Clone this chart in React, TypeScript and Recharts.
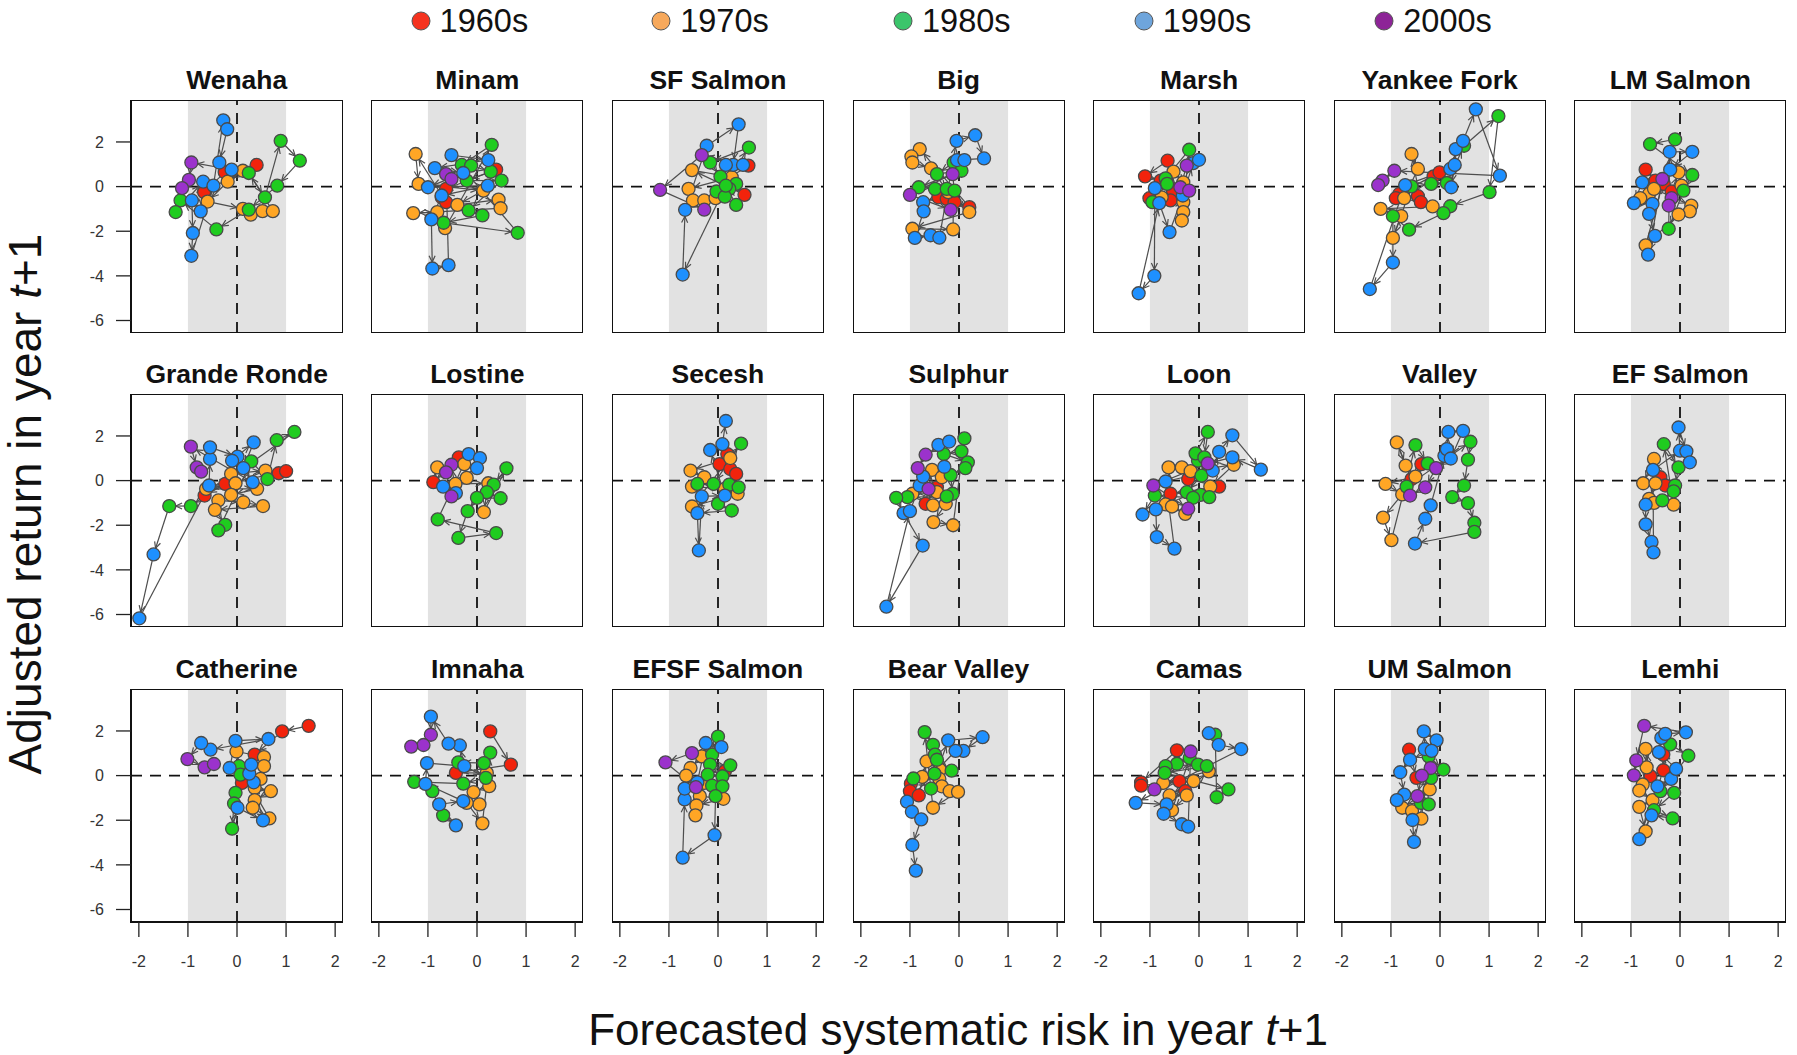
import {
  ComposedChart,
  XAxis,
  YAxis,
  ReferenceArea,
  ReferenceLine,
  Line,
  Scatter,
} from "recharts";

// point = [forecasted risk, adjusted return]; each panel holds 5 decade groups (1960s..2000s) in time order
type Pt = [number, number];

const DECADES = ["1960s", "1970s", "1980s", "1990s", "2000s"];
const POINT_COLORS = ["#f2230c", "#ffa625", "#1fcc1f", "#1e90ff", "#9b32cc"];
const LEGEND_COLORS = ["#f5331f", "#f7a95c", "#3bc56b", "#6ea5dc", "#8d2497"];
const X_TICKS = [-2, -1, 0, 1, 2];
const Y_TICKS = [-6, -4, -2, 0, 2];

const wenaha: Pt[][] = [
  [[0.4, 0.97], [-0.25, 0.64], [-0.67, -0.25]],
  [[0.12, 0.71], [-0.19, 0.22], [-0.6, -0.67], [0.12, -1.0], [0.28, -1.26], [0.52, -1.1], [0.73, -1.1]],
  [[0.24, 0.61], [0.57, -0.48], [0.89, 2.05], [1.28, 1.16], [0.82, 0.04], [0.24, -1.03], [-0.42, -1.92], [-1.15, -0.62], [-1.25, -1.14]],
  [[-0.69, 0.22], [-0.74, -1.11], [-0.92, -0.62], [-0.9, -2.08], [-0.93, -3.1], [-0.48, 0.04], [-0.28, 2.97], [-0.2, 2.57], [-0.36, 1.08], [-0.11, 0.76]],
  [[-0.93, 1.08], [-0.98, 0.3], [-1.12, -0.07]],
];
const minam: Pt[][] = [
  [[0.39, 0.76], [-0.63, -0.1], [-0.72, -0.48], [-0.63, -0.7]],
  [[-1.25, 1.46], [-1.19, 0.12], [0.13, -0.18], [-0.4, -0.82], [0.44, -0.58], [0.48, -0.97], [-1.3, -1.19], [-0.81, -1.14], [-0.65, -1.86]],
  [[0.3, 1.87], [-0.31, 0.97], [-0.12, 0.94], [0.28, 0.67], [-0.21, 0.27], [0.5, 0.27], [-0.17, -1.07], [0.11, -1.29], [-0.68, -1.62], [0.83, -2.07]],
  [[-0.52, 1.41], [0.23, 1.19], [-0.86, 0.83], [-0.28, 0.61], [-1.0, -0.03], [0.22, 0.04], [-0.72, -0.4], [-0.93, -1.47], [-0.91, -3.67], [-0.58, -3.52]],
  [[-0.63, 0.56], [-0.52, 0.34]],
];
const sfSalmon: Pt[][] = [
  [[0.62, 0.94], [0.14, 0.27], [0.54, -0.37]],
  [[-0.53, 0.74], [0.28, 0.42], [-0.6, -0.1], [-0.51, -0.62], [-0.28, -0.62], [-0.05, -0.52]],
  [[0.63, 1.75], [-0.16, 1.08], [0.05, 0.45], [0.37, 0.12], [-0.03, -0.22], [0.23, -0.1], [0.14, -0.45], [0.37, -0.82], [0.16, 0.04]],
  [[-0.72, -3.94], [-0.67, -1.04], [-0.23, 1.83], [0.42, 2.79], [0.31, 0.97], [0.16, 0.97], [0.51, 0.97]],
  [[-0.33, 1.41], [-1.18, -0.15], [-0.28, -1.03]],
];
const big: Pt[][] = [
  [[-0.42, -0.48], [-0.25, -0.55], [-0.09, -0.7], [0.21, -0.92]],
  [[-0.8, 1.68], [-0.97, 1.35], [-0.95, 1.08], [-0.57, 0.82], [-0.22, -0.25], [0.21, -1.14], [-0.95, -1.89], [-0.12, -1.92]],
  [[-0.11, 1.08], [-0.45, 0.56], [0.05, 0.71], [-0.82, -0.03], [-0.49, -0.1], [-0.25, -0.1], [-0.09, -0.18]],
  [[-0.73, -0.7], [-0.72, -1.11], [-0.9, -2.3], [-0.58, -2.18], [-0.4, -2.29], [-0.05, 2.05], [0.33, 2.3], [0.51, 1.26], [-0.04, 1.19], [0.11, 1.19]],
  [[-0.13, 0.56], [-1.0, -0.37], [-0.17, -1.04]],
];
const marsh: Pt[][] = [
  [[-0.64, 1.16], [-1.1, 0.46], [-0.78, 0.27], [-0.53, -0.18], [-1.01, -0.52], [-0.58, -0.62]],
  [[-0.52, 0.67], [-0.32, 0.19], [-0.76, -0.48], [-0.32, -0.7], [-0.32, -1.14], [-0.35, -1.52]],
  [[-0.2, 1.65], [-0.68, 0.37], [-0.65, 0.12], [-0.95, -0.7]],
  [[-0.9, -0.07], [-0.91, -4.0], [-1.23, -4.78], [-0.81, -0.74], [-0.6, -2.04], [-0.33, -0.4], [-0.12, 1.05], [0.0, 1.2]],
  [[-0.25, 0.94], [-0.38, -0.03], [-0.2, -0.18]],
];
const yankeeFork: Pt[][] = [
  [[-0.13, 0.46], [-0.01, 0.64], [-0.83, -0.33], [-0.9, -0.52], [-0.45, -0.43], [-0.39, -0.7]],
  [[-0.58, 1.46], [-0.45, 0.79], [-0.73, -0.52], [-0.15, -0.89], [-1.21, -1.0], [-0.79, -1.32], [-0.96, -2.3]],
  [[-0.58, 0.01], [-0.18, 0.12], [0.14, 0.16], [0.49, 1.83], [1.19, 3.16], [1.01, -0.25], [0.21, -0.88], [0.07, -1.19], [-0.63, -1.93], [-0.96, -1.32]],
  [[-0.96, -3.4], [-1.43, -4.59], [-0.71, 0.07], [0.21, 0.79], [0.3, 0.97], [0.23, -0.03], [0.32, 1.68], [0.47, 2.05], [0.73, 3.46], [1.22, 0.49]],
  [[-0.93, 0.71], [-1.17, 0.27], [-1.26, 0.07]],
];
const lmSalmon: Pt[][] = [
  [[-0.7, 0.76], [-0.5, 0.27], [-0.33, 0.12], [-0.17, -0.22]],
  [[-0.03, 0.64], [0.03, 0.04], [-0.63, -0.33], [-0.81, -0.52], [-0.53, -0.1], [0.23, -0.85], [0.2, -1.11], [-0.03, -1.25], [-0.7, -2.63]],
  [[-0.1, 2.12], [-0.61, 1.9], [0.25, 0.52], [0.07, -0.18], [-0.23, -1.89]],
  [[-0.21, 1.56], [0.25, 1.56], [-0.2, 0.76], [-0.77, 0.19], [-0.94, -0.74], [-0.56, -0.77], [-0.63, -1.22], [-0.51, -2.21], [-0.65, -3.05]],
  [[-0.36, 0.34], [-0.17, -0.52], [-0.23, -0.85]],
];
const grandeRonde: Pt[][] = [
  [[0.85, 0.33], [1.0, 0.42], [-0.24, -0.15], [-0.66, -0.67]],
  [[-0.12, 0.3], [0.58, 0.45], [-0.03, -0.12], [-0.63, -0.37], [0.41, -0.37], [-0.12, -0.64], [-0.38, -0.89], [0.13, -0.97], [0.53, -1.14], [-0.45, -1.31]],
  [[-0.24, -1.98], [-0.38, -2.23], [0.29, 0.86], [0.62, 0.07], [0.81, 1.81], [1.17, 2.18], [-0.94, -1.14], [-1.38, -1.14]],
  [[-1.7, -3.31], [-1.99, -6.17], [-0.57, -0.22], [-0.55, 0.97], [-0.55, 1.49], [0.01, 1.07], [-0.1, 0.89], [0.34, 1.71], [0.13, 0.56], [0.32, -0.07]],
  [[-0.94, 1.52], [-0.82, 0.59], [-0.73, 0.4]],
];
const lostine: Pt[][] = [
  [[-0.37, 1.04], [-0.89, -0.07]],
  [[-0.81, 0.59], [-0.26, 0.74], [-0.21, 0.12], [-0.44, -0.15], [0.23, -0.12], [0.14, -1.41]],
  [[0.6, 0.55], [0.34, -0.18], [0.2, -0.52], [0.48, -0.79], [0.0, -0.77], [-0.19, -1.37], [-0.38, -2.57], [0.39, -2.35], [-0.8, -1.74]],
  [[-0.17, 1.19], [0.06, 1.01], [0.0, 0.56], [-0.69, -0.27], [-0.43, -0.56]],
  [[-0.52, 0.71], [-0.63, 0.37], [-0.52, -0.71]],
];
const secesh: Pt[][] = [
  [[0.19, 1.19], [0.03, 0.74], [0.25, 0.52], [0.37, 0.3]],
  [[0.25, 1.01], [-0.56, 0.45], [-0.28, 0.15], [-0.53, -0.27], [0.14, -0.37], [0.4, -0.59], [-0.53, -1.16]],
  [[0.47, 1.66], [-0.09, -0.15], [-0.42, -0.15], [0.23, -0.18], [0.42, -0.3], [0.0, -1.04], [0.28, -1.34]],
  [[-0.42, -1.46], [-0.39, -3.13], [-0.33, -0.71], [0.14, -0.67], [-0.16, 1.37], [0.09, 1.63], [0.16, 2.67]],
  [],
];
const sulphur: Pt[][] = [
  [[-0.45, -0.3], [-0.68, -1.04]],
  [[-0.55, 0.48], [-0.35, 0.15], [-0.45, -0.52], [-0.95, -0.59], [-0.53, -1.11], [-0.27, -1.04], [-0.52, -1.86], [-0.12, -2.0]],
  [[0.11, 1.89], [0.05, 1.31], [-0.31, 1.19], [0.18, 0.82], [0.13, 0.56], [-0.17, 0.25], [-0.13, -0.59], [-0.25, -0.71], [-1.05, -0.74], [-1.28, -0.77]],
  [[-1.13, -1.46], [-0.74, -2.91], [-1.48, -5.65], [-1.0, -1.37], [-0.8, -0.22], [-0.73, 0.18], [-0.3, 0.62], [-0.42, 1.6], [-0.2, 1.75]],
  [[-0.68, 1.16], [-0.84, 0.56], [-0.62, -0.37]],
];
const loon: Pt[][] = [
  [[-0.22, 0.07], [0.41, -0.27], [-0.58, -0.59]],
  [[-0.62, 0.59], [-0.35, 0.59], [-0.17, 0.42], [0.71, 0.71], [0.23, -0.27], [-0.68, -1.07], [-0.55, -1.16], [-0.28, -1.49]],
  [[-0.02, 0.89], [-0.07, 1.22], [0.18, 2.18], [0.11, 1.04], [0.05, 0.22], [-0.25, -0.52], [0.03, -0.64], [0.21, -0.74], [-0.12, -0.77], [-0.9, -0.67]],
  [[-1.15, -1.52], [-0.88, -1.29], [-0.86, -2.53], [-0.5, -3.05], [-0.68, -0.04], [0.28, 0.45], [0.41, 1.29], [0.68, 2.03], [1.26, 0.49], [0.68, 1.04]],
  [[0.18, 0.77], [-0.93, -0.22], [-0.22, -1.26]],
];
const valley: Pt[][] = [
  [[-0.38, 0.74], [-0.58, 0.07]],
  [[-0.88, 1.71], [-0.7, 0.67], [-0.5, 0.18], [-1.11, -0.15], [-0.77, -0.62], [-1.16, -1.66], [-0.99, -2.67]],
  [[-0.5, 1.59], [-0.25, 0.77], [-0.68, -0.27], [0.62, 1.74], [0.57, 0.94], [0.49, -0.22], [0.25, -0.74], [0.57, -1.01], [0.7, -1.89], [0.7, -2.3]],
  [[-0.51, -2.82], [-0.3, -1.71], [-0.19, -1.11], [0.09, 1.11], [0.14, 1.41], [0.17, 2.18], [0.47, 2.23], [0.22, 0.99]],
  [[-0.08, 0.56], [-0.3, -0.3], [-0.61, -0.67]],
];
const efSalmon: Pt[][] = [
  [[-0.4, 0.15], [-0.3, -0.22]],
  [[-0.53, 0.97], [-0.75, -0.12], [-0.5, -0.12], [-0.63, -0.82], [-0.53, -1.0], [-0.13, -1.08]],
  [[-0.33, 1.63], [-0.03, 0.59], [-0.1, -0.22], [-0.13, -0.48], [-0.36, -0.89]],
  [[-0.7, -1.08], [-0.7, -1.96], [-0.58, -2.75], [-0.54, -3.22], [-0.55, 0.48], [0.0, 1.34], [-0.03, 2.38], [0.13, 1.31], [0.2, 0.82]],
  [],
];
const catherine: Pt[][] = [
  [[1.46, 2.23], [0.92, 1.98], [0.36, 0.94], [0.1, -0.33]],
  [[-0.01, 1.08], [0.55, 0.83], [0.55, 0.42], [0.48, -0.15], [0.36, -0.55], [0.69, -0.7], [0.36, -1.1], [0.32, -1.44], [0.66, -1.92]],
  [[0.04, 0.42], [0.07, 0.04], [-0.03, -0.77], [-0.06, -1.25], [-0.1, -2.38]],
  [[0.01, -1.44], [0.53, -2.01], [0.34, -0.3], [0.25, 0.09], [0.29, 0.49], [-0.15, 0.34], [-0.03, 1.56], [0.64, 1.64], [-0.54, 1.16], [-0.73, 1.46]],
  [[-1.01, 0.74], [-0.66, 0.37], [-0.47, 0.52]],
];
const imnaha: Pt[][] = [
  [[0.27, 1.98], [0.69, 0.49], [-0.43, 0.12]],
  [[0.2, 0.12], [0.25, -0.47], [-0.07, -0.74], [0.05, -1.29], [-0.21, -1.22], [0.11, -2.14]],
  [[0.27, 1.03], [0.14, 0.56], [-0.38, 0.59], [0.18, -0.1], [-0.28, -0.36], [-1.28, -0.28], [-0.91, -0.7], [-0.69, -1.78]],
  [[-0.43, -2.23], [-0.77, -1.29], [-0.28, -1.14], [-1.05, -0.37], [-1.02, 0.56], [-0.26, 0.42], [-0.35, 1.35], [-0.58, 1.43], [-0.94, 2.64]],
  [[-0.94, 1.83], [-1.09, 1.37], [-1.34, 1.3]],
];
const efsfSalmon: Pt[][] = [
  [[0.14, 0.19]],
  [[-0.33, 0.86], [-0.56, 0.34], [-0.65, 0.0], [-0.28, -0.33], [-0.37, -0.92], [0.11, -1.04], [-0.44, -1.34], [-0.46, -1.78]],
  [[0.0, 1.75], [-0.12, 0.94], [-0.16, 0.49], [0.25, 0.46], [-0.21, 0.04], [0.09, -0.03], [-0.12, -0.45], [0.09, -0.48], [-0.05, -0.92]],
  [[-0.07, -2.67], [-0.72, -3.68], [-0.68, -1.07], [-0.68, -0.58], [-0.42, -0.3], [-0.25, 1.46], [0.07, 1.28]],
  [[-0.53, 1.01], [-1.07, 0.59], [-0.45, -0.52]],
];
const bearValley: Pt[][] = [
  [[-0.98, -0.36], [-1.0, -0.7], [-0.82, -0.89]],
  [[-0.66, 0.64], [-0.39, 0.27], [-0.75, -0.06], [-0.4, -0.15], [-0.35, -0.48], [-0.19, -0.7], [-0.02, -0.73], [-0.53, -1.44]],
  [[-0.7, 1.95], [-0.53, 1.38], [-0.49, 0.94], [-0.45, 0.71], [-0.15, 0.22], [-0.5, 0.09], [-0.93, -0.13], [-0.57, -0.58]],
  [[-0.22, 1.58], [0.48, 1.72], [0.09, 1.11], [-0.07, 1.11], [-1.06, -1.17], [-0.96, -1.62], [-0.77, -1.96], [-0.95, -3.11], [-0.88, -4.26]],
  [],
];
const camas: Pt[][] = [
  [[-0.45, 1.13], [-1.18, -0.3], [-1.18, -0.45], [-0.4, -0.25], [-0.28, -0.7]],
  [[0.2, 0.19], [-0.73, -0.33], [-0.11, -0.25], [-0.6, -0.89], [-0.25, -0.89], [-0.55, -1.55]],
  [[-0.19, 0.79], [-0.45, 0.53], [-0.68, 0.42], [-0.02, 0.49], [0.16, 0.42], [-0.7, 0.12], [0.6, -0.62], [0.36, -0.97], [0.33, 1.83]],
  [[0.2, 1.9], [0.4, 1.38], [0.86, 1.19], [-1.29, -1.22], [-0.66, -1.29], [-0.72, -1.71], [-0.35, -2.18], [-0.22, -2.29]],
  [[-0.17, 1.08], [-0.91, -0.62]],
];
const umSalmon: Pt[][] = [
  [[-0.63, 1.16], [-0.48, -0.1]],
  [[-0.21, -0.62], [-0.77, -1.44], [-0.57, -1.59], [-0.38, -1.93]],
  [[-0.23, 0.86], [0.07, 0.27], [-0.18, -0.1], [-0.39, -1.22], [-0.23, -1.29]],
  [[-0.33, 1.98], [-0.07, 1.58], [-0.31, 1.19], [-0.17, 1.11], [-0.61, 0.71], [-0.81, 0.15], [-0.73, -0.85], [-0.88, -1.1], [-0.56, -1.99], [-0.53, -2.97]],
  [[-0.19, 0.34], [-0.37, 0.0], [-0.46, -0.92]],
];
const lemhi: Pt[][] = [
  [[-0.34, 0.94], [-0.34, 0.24], [-0.6, -0.03]],
  [[-0.7, 1.2], [-0.68, 0.37], [-0.76, -0.4], [-0.83, -0.67], [-0.56, -1.1], [-0.83, -1.4], [-0.7, -2.5]],
  [[-0.2, 1.4], [0.17, 0.89], [-0.4, -0.7], [-0.12, -0.77], [-0.53, -1.55], [-0.15, -1.92]],
  [[-0.58, -1.78], [-0.83, -2.85], [-0.46, -0.48], [-0.18, -0.15], [-0.08, 0.3], [-0.43, 1.05], [-0.38, 1.69], [-0.3, 1.87], [0.12, 1.94]],
  [[-0.73, 2.23], [-0.89, 0.68], [-0.94, 0.01]],
];

const PANELS: { name: string; groups: Pt[][] }[] = [
  { name: "Wenaha", groups: wenaha },
  { name: "Minam", groups: minam },
  { name: "SF Salmon", groups: sfSalmon },
  { name: "Big", groups: big },
  { name: "Marsh", groups: marsh },
  { name: "Yankee Fork", groups: yankeeFork },
  { name: "LM Salmon", groups: lmSalmon },
  { name: "Grande Ronde", groups: grandeRonde },
  { name: "Lostine", groups: lostine },
  { name: "Secesh", groups: secesh },
  { name: "Sulphur", groups: sulphur },
  { name: "Loon", groups: loon },
  { name: "Valley", groups: valley },
  { name: "EF Salmon", groups: efSalmon },
  { name: "Catherine", groups: catherine },
  { name: "Imnaha", groups: imnaha },
  { name: "EFSF Salmon", groups: efsfSalmon },
  { name: "Bear Valley", groups: bearValley },
  { name: "Camas", groups: camas },
  { name: "UM Salmon", groups: umSalmon },
  { name: "Lemhi", groups: lemhi },
];

const FONT = "'Liberation Sans', Arial, Helvetica, sans-serif";
const PW = 212;
const PH = 233;
const COL_X = [130.7, 371.3, 611.9, 852.5, 1093.1, 1333.7, 1574.3];
const ROW_Y = [99.7, 394.2, 688.7];
const YW = 62;
const XH = 60;
const X_DOMAIN: [number, number] = [-2.16, 2.16];
const Y_DOMAIN: [number, number] = [-6.56, 3.88];
const R = 6.5;

function Panel({ name, groups, col, row }: { name: string; groups: Pt[][]; col: number; row: number }) {
  const data = groups.flatMap((g, d) => g.map(([x, y]) => ({ x, y, d })));
  const showY = col === 0;
  const showX = row === 2;
  const w = PW + (showY ? YW : 0);
  const h = PH + (showX ? XH : 0);
  const left = COL_X[col] - (showY ? YW : 0);
  const top = ROW_Y[row];

  // arrows from previous year to this year, drawn as the line's dots
  const pos: { x: number; y: number }[] = [];
  const arrow = (p: any) => {
    const { cx, cy, index } = p;
    pos[index] = { x: cx, y: cy };
    const prev = index > 0 ? pos[index - 1] : undefined;
    if (!prev) return <g key={`a${index}`} />;
    const dx = cx - prev.x;
    const dy = cy - prev.y;
    const len = Math.hypot(dx, dy);
    if (len < 2 * R + 1) return <g key={`a${index}`} />;
    const ux = dx / len;
    const uy = dy / len;
    const sx = prev.x + ux * R;
    const sy = prev.y + uy * R;
    const ex = cx - ux * R;
    const ey = cy - uy * R;
    const ah = 7;
    const a = Math.PI / 7;
    const wing = (s: number) => {
      const bx = -ux;
      const by = -uy;
      const rx = bx * Math.cos(s * a) - by * Math.sin(s * a);
      const ry = bx * Math.sin(s * a) + by * Math.cos(s * a);
      return `${ex + ah * rx},${ey + ah * ry}`;
    };
    return (
      <g key={`a${index}`}>
        <line x1={sx} y1={sy} x2={ex} y2={ey} stroke="#4d4d4d" strokeWidth={1.2} />
        <polyline points={`${wing(1)} ${ex},${ey} ${wing(-1)}`} fill="none" stroke="#4d4d4d" strokeWidth={1.2} />
      </g>
    );
  };

  const dotShape = (p: any) => (
    <circle
      cx={p.cx}
      cy={p.cy}
      r={R}
      fill={POINT_COLORS[p.payload.d]}
      stroke="#4a4a4a"
      strokeWidth={1.3}
    />
  );

  return (
    <>
      <div
        style={{
          position: "absolute",
          left: COL_X[col] - 40,
          top: top - 35,
          width: PW + 80,
          textAlign: "center",
          fontWeight: "bold",
          fontSize: 26.5,
          lineHeight: "30px",
          color: "#111",
        }}
      >
        {name}
      </div>
      <div style={{ position: "absolute", left, top }}>
        <ComposedChart width={w} height={h} data={data} margin={{ top: 0, right: 0, bottom: 0, left: 0 }}>
          <XAxis
            type="number"
            dataKey="x"
            domain={X_DOMAIN}
            allowDataOverflow
            ticks={X_TICKS}
            interval={0}
            hide={!showX}
            height={XH}
            axisLine={false}
            tickSize={15}
            tickMargin={19}
            tickLine={{ stroke: "#222", strokeWidth: 1.3 }}
            tick={{ fontSize: 16, fill: "#333", fontFamily: FONT }}
          />
          <YAxis
            type="number"
            dataKey="y"
            domain={Y_DOMAIN}
            allowDataOverflow
            ticks={Y_TICKS}
            interval={0}
            hide={!showY}
            width={YW}
            axisLine={false}
            tickSize={15}
            tickMargin={12}
            tickLine={{ stroke: "#222", strokeWidth: 1.3 }}
            tick={{ fontSize: 16, fill: "#333", fontFamily: FONT }}
          />
          <ReferenceArea x1={-1} x2={1} fill="#e2e2e2" fillOpacity={1} stroke="none" />
          <ReferenceLine x={0} stroke="#111" strokeWidth={1.8} strokeDasharray="11 8" />
          <ReferenceLine y={0} stroke="#111" strokeWidth={1.8} strokeDasharray="11 8" />
          <Line
            dataKey="y"
            stroke="none"
            dot={arrow}
            activeDot={false}
            isAnimationActive={false}
          />
          <Scatter dataKey="y" shape={dotShape} isAnimationActive={false} />
          <ReferenceArea
            x1={X_DOMAIN[0]}
            x2={X_DOMAIN[1]}
            y1={Y_DOMAIN[0]}
            y2={Y_DOMAIN[1]}
            fill="none"
            stroke="#111"
            strokeWidth={2}
            ifOverflow="visible"
          />
        </ComposedChart>
      </div>
    </>
  );
}

export default function App() {
  const legendX = [420.6, 661.2, 903, 1143.7, 1384.3];
  return (
    <div
      style={{
        position: "absolute",
        left: 0,
        top: 0,
        width: 1797,
        height: 1055,
        background: "#fff",
        fontFamily: FONT,
        overflow: "hidden",
      }}
    >
      {DECADES.map((label, i) => (
        <div
          key={label}
          style={{ position: "absolute", left: legendX[i] - 10, top: 3, height: 36, display: "flex", alignItems: "center" }}
        >
          <svg width={20} height={20}>
            <circle cx={10} cy={10} r={9} fill={LEGEND_COLORS[i]} stroke="#555" strokeWidth={1} />
          </svg>
          <span style={{ fontSize: 32.5, marginLeft: 9, color: "#111" }}>{label}</span>
        </div>
      ))}

      {PANELS.map((p, i) => (
        <Panel key={p.name} name={p.name} groups={p.groups} col={i % 7} row={Math.floor(i / 7)} />
      ))}

      <div
        style={{
          position: "absolute",
          left: 25 - 400,
          top: 504 - 26,
          width: 800,
          height: 52,
          lineHeight: "52px",
          textAlign: "center",
          fontSize: 46,
          color: "#111",
          transform: "rotate(-90deg)",
          transformOrigin: "center",
          whiteSpace: "nowrap",
        }}
      >
        Adjusted return in year <i>t</i>+1
      </div>
      <div
        style={{
          position: "absolute",
          left: 958 - 500,
          top: 1030 - 23,
          width: 1000,
          height: 46,
          lineHeight: "46px",
          textAlign: "center",
          fontSize: 44,
          color: "#111",
          whiteSpace: "nowrap",
        }}
      >
        Forecasted systematic risk in year <i>t</i>+1
      </div>
    </div>
  );
}
